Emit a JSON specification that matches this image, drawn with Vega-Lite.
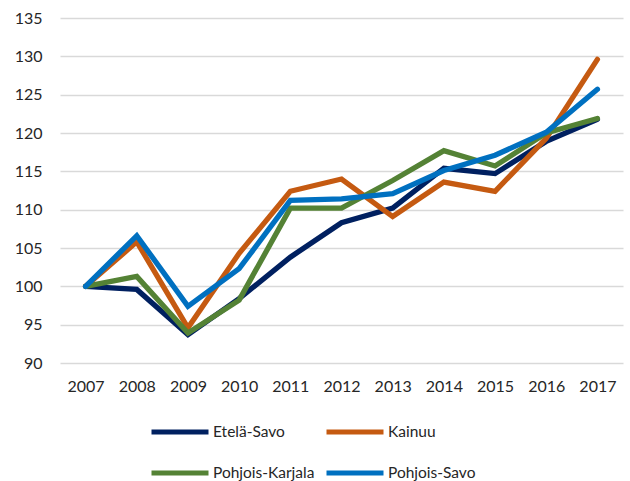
{
  "$schema": "https://vega.github.io/schema/vega-lite/v6.json",
  "width": 563,
  "height": 345,
  "autosize": {"type": "none"},
  "padding": {"left": 60, "top": 18, "right": 7, "bottom": 118},
  "background": "white",
  "config": {
    "view": {"stroke": null},
    "font": "Lato",
    "axis": {"labelFont": "Lato", "labelFontSize": 16, "labelColor": "#262626"}
  },
  "data": {
    "values": [
      {"year": "2007", "region": "Etelä-Savo", "value": 100},
      {"year": "2008", "region": "Etelä-Savo", "value": 99.6},
      {"year": "2009", "region": "Etelä-Savo", "value": 93.7},
      {"year": "2010", "region": "Etelä-Savo", "value": 98.4},
      {"year": "2011", "region": "Etelä-Savo", "value": 103.8},
      {"year": "2012", "region": "Etelä-Savo", "value": 108.3},
      {"year": "2013", "region": "Etelä-Savo", "value": 110.2},
      {"year": "2014", "region": "Etelä-Savo", "value": 115.4},
      {"year": "2015", "region": "Etelä-Savo", "value": 114.7},
      {"year": "2016", "region": "Etelä-Savo", "value": 118.9},
      {"year": "2017", "region": "Etelä-Savo", "value": 121.8},
      {"year": "2007", "region": "Kainuu", "value": 100},
      {"year": "2008", "region": "Kainuu", "value": 105.8},
      {"year": "2009", "region": "Kainuu", "value": 94.6},
      {"year": "2010", "region": "Kainuu", "value": 104.3},
      {"year": "2011", "region": "Kainuu", "value": 112.4},
      {"year": "2012", "region": "Kainuu", "value": 114},
      {"year": "2013", "region": "Kainuu", "value": 109.1},
      {"year": "2014", "region": "Kainuu", "value": 113.6},
      {"year": "2015", "region": "Kainuu", "value": 112.4},
      {"year": "2016", "region": "Kainuu", "value": 119.3},
      {"year": "2017", "region": "Kainuu", "value": 129.6},
      {"year": "2007", "region": "Pohjois-Karjala", "value": 100},
      {"year": "2008", "region": "Pohjois-Karjala", "value": 101.3},
      {"year": "2009", "region": "Pohjois-Karjala", "value": 93.9},
      {"year": "2010", "region": "Pohjois-Karjala", "value": 98.2},
      {"year": "2011", "region": "Pohjois-Karjala", "value": 110.2},
      {"year": "2012", "region": "Pohjois-Karjala", "value": 110.2},
      {"year": "2013", "region": "Pohjois-Karjala", "value": 113.8},
      {"year": "2014", "region": "Pohjois-Karjala", "value": 117.7},
      {"year": "2015", "region": "Pohjois-Karjala", "value": 115.7},
      {"year": "2016", "region": "Pohjois-Karjala", "value": 120},
      {"year": "2017", "region": "Pohjois-Karjala", "value": 121.9},
      {"year": "2007", "region": "Pohjois-Savo", "value": 100},
      {"year": "2008", "region": "Pohjois-Savo", "value": 106.6},
      {"year": "2009", "region": "Pohjois-Savo", "value": 97.4},
      {"year": "2010", "region": "Pohjois-Savo", "value": 102.3},
      {"year": "2011", "region": "Pohjois-Savo", "value": 111.2},
      {"year": "2012", "region": "Pohjois-Savo", "value": 111.4},
      {"year": "2013", "region": "Pohjois-Savo", "value": 112.1},
      {"year": "2014", "region": "Pohjois-Savo", "value": 115.1},
      {"year": "2015", "region": "Pohjois-Savo", "value": 117.1},
      {"year": "2016", "region": "Pohjois-Savo", "value": 120.1},
      {"year": "2017", "region": "Pohjois-Savo", "value": 125.7}
    ]
  },
  "mark": {"type": "line", "strokeWidth": 5.3, "strokeCap": "round", "strokeJoin": "miter"},
  "encoding": {
    "x": {
      "field": "year", "type": "ordinal",
      "scale": {"type": "point", "padding": 0.5},
      "axis": {"title": null, "labelAngle": 0, "ticks": false, "domain": false, "labelPadding": 15, "grid": false}
    },
    "y": {
      "field": "value", "type": "quantitative",
      "scale": {"domain": [90, 135], "nice": false, "zero": false},
      "axis": {"title": null, "values": [90, 95, 100, 105, 110, 115, 120, 125, 130, 135], "ticks": false, "domain": false, "labelPadding": 18, "gridColor": "#d9d9d9", "gridWidth": 1.3}
    },
    "color": {
      "field": "region", "type": "nominal",
      "scale": {"domain": ["Etelä-Savo", "Kainuu", "Pohjois-Karjala", "Pohjois-Savo"], "range": ["#002060", "#C55A11", "#548235", "#0070C0"]},
      "legend": {
        "title": null, "orient": "none", "legendX": 89, "legendY": 383, "columns": 2, "direction": "horizontal",
        "symbolType": "stroke", "symbolSize": 3249, "symbolStrokeWidth": 5,
        "labelFont": "Lato", "labelFontSize": 15.5, "labelColor": "#262626", "labelOffset": 2,
        "columnPadding": 1, "rowPadding": -22
      }
    }
  }
}
